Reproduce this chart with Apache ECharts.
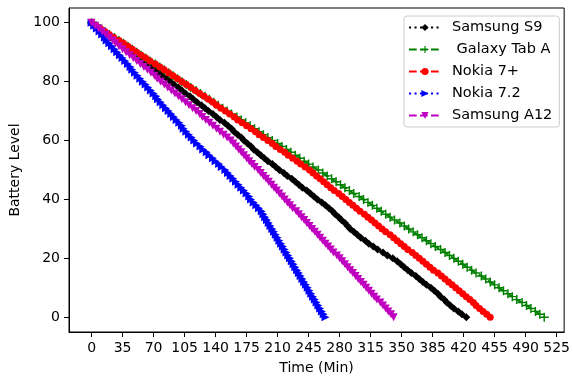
<!DOCTYPE html>
<html><head><meta charset="utf-8">
<script src="https://cdn.jsdelivr.net/npm/echarts@6/dist/echarts.min.js"></script>
<style>html,body{margin:0;padding:0;background:#fff}#c{width:573px;height:381px}</style>
</head><body><div id="c"></div>
<script>
// Battery levels (%) at which each time (minutes) was recorded
const levels = [100,99,98,97,96,95,94,93,92,91,90,89,88,87,86,85,84,83,82,81,80,79,78,77,76,75,74,73,72,71,70,69,68,67,66,65,64,63,62,61,60,59,58,57,56,55,54,53,52,51,50,49,48,47,46,45,44,43,42,41,40,39,38,37,36,35,34,33,32,31,30,29,28,27,26,25,24,23,22,21,20,19,18,17,16,15,14,13,12,11,10,9,8,7,6,5,4,3,2,1,0];

const samsungS9 = [0,4,9,13,18,22,27,31,36,40,45,49,54,58,63,67,72,76,80,85,89,93,98,102,106,111,115,119,124,128,132,137,141,145,150,154,158,161,165,169,172,176,180,183,187,191,195,199,204,208,212,217,221,226,230,234,238,243,247,251,255,260,264,268,272,275,279,282,286,289,292,296,300,304,309,313,318,323,329,334,340,345,349,353,357,361,366,370,374,378,383,387,391,394,398,401,405,409,414,418,423];

const galaxyTabA = [0,5,10,15,20,26,31,36,41,46,51,56,61,66,72,77,82,87,92,97,102,107,112,118,123,128,133,138,143,148,153,158,164,169,174,179,184,189,194,199,204,210,215,220,225,230,235,240,245,250,256,261,266,271,276,281,286,291,296,302,307,312,317,322,327,332,337,342,348,353,358,363,368,373,378,383,388,394,399,404,409,414,419,424,429,434,440,445,450,455,460,465,470,475,480,486,491,496,501,506,511];

const nokia7plus = [0,5,10,15,20,25,31,36,41,46,51,56,61,66,72,77,82,87,92,97,102,107,112,117,122,127,132,137,141,146,151,156,161,165,170,175,180,185,189,194,199,204,208,213,218,222,227,232,236,241,246,250,254,258,262,266,270,274,279,283,287,291,295,299,303,308,312,316,320,324,328,332,337,341,345,349,353,357,362,366,370,374,378,382,386,391,395,399,403,407,411,415,419,423,427,431,434,438,442,446,450];

const nokia72 = [0,3,6,9,12,15,17,20,23,26,29,32,35,38,41,44,46,49,52,55,58,61,64,67,70,73,75,78,81,84,87,90,93,96,99,102,104,107,110,113,116,119,123,126,130,133,137,140,144,147,151,154,157,160,163,166,169,172,175,178,180,183,186,189,192,194,196,198,200,202,204,206,208,210,212,214,216,218,220,222,224,226,228,230,232,234,236,238,240,242,244,246,248,250,252,254,256,258,260,262,264];

const samsungA12 = [0,4,8,12,16,20,24,27,31,35,39,43,47,51,55,59,63,67,71,74,78,82,86,90,94,98,102,106,110,114,118,122,125,129,133,137,141,145,149,153,157,160,163,166,169,172,175,178,181,184,188,191,194,197,200,203,206,209,212,215,218,221,224,227,231,234,237,240,243,246,249,252,255,258,261,264,267,270,273,277,280,283,286,289,292,295,298,301,304,307,310,313,316,319,322,326,329,332,335,338,341];

const xTicks = [0,35,70,105,140,175,210,245,280,315,350,385,420,455,490,525];
const yTicks = [0,20,40,60,80,100];

const seriesNames = ['Samsung S9', ' Galaxy Tab A', 'Nokia 7+', 'Nokia 7.2', 'Samsung A12'];

function pairs(times){ return times.map((t,i)=>[t, levels[i]]); }

const FONT = 'DejaVu Sans';
const plus = 'path://M4.2,0 L5.8,0 L5.8,4.2 L10,4.2 L10,5.8 L5.8,5.8 L5.8,10 L4.2,10 L4.2,5.8 L0,5.8 L0,4.2 L4.2,4.2 Z';

const styles = [
  {data: samsungS9, color:'#000000', symbol:'diamond', size:8, rot:0, dash:[2.1,3.4]},
  {data: galaxyTabA, color:'#008000', symbol:plus, size:9, rot:0, dash:[7.7,3.3]},
  {data: nokia7plus, color:'#ff0000', symbol:'circle', size:7, rot:0, dash:[7.7,3.3]},
  {data: nokia72, color:'#0000ff', symbol:'triangle', size:8, rot:-90, dash:[2.1,3.4]},
  {data: samsungA12, color:'#bf00bf', symbol:'triangle', size:8, rot:180, dash:[7.7,3.3]}
];

const chart = echarts.init(document.getElementById('c'), null, {renderer:'canvas'});
chart.setOption({
  animation:false,
  backgroundColor:'#ffffff',
  grid:{left:69, right:6, top:8, bottom:49, show:true, borderColor:'#000', borderWidth:1, backgroundColor:'transparent'},
  legend:{
    orient:'vertical', left:404, top:16,
    itemWidth:32, itemHeight:9, itemGap:7,
    padding:[4,7,4,4],
    borderColor:'#cccccc', borderWidth:1, borderRadius:3,
    backgroundColor:'rgba(255,255,255,0.8)',
    textStyle:{fontFamily:FONT, fontSize:14.5, color:'#000', padding:[0,0,0,6]},
    data: seriesNames
  },
  xAxis:{
    type:'value', min:-25.5, max:533.5,
    name:'Time (Min)', nameLocation:'middle', nameGap:29,
    nameTextStyle:{fontFamily:FONT, fontSize:14, color:'#000'},
    axisLine:{show:true, onZero:false, lineStyle:{color:'#000', width:1}},
    axisTick:{show:true, customValues:xTicks, length:5, lineStyle:{color:'#000', width:1}},
    axisLabel:{customValues:xTicks, margin:9, fontFamily:FONT, fontSize:14, color:'#000'},
    splitLine:{show:false}
  },
  yAxis:{
    type:'value', min:-5, max:105,
    name:'Battery Level', nameLocation:'middle', nameGap:43,
    nameTextStyle:{fontFamily:FONT, fontSize:14, color:'#000'},
    axisLine:{show:true, onZero:false, lineStyle:{color:'#000', width:1}},
    axisTick:{show:true, customValues:yTicks, length:5, lineStyle:{color:'#000', width:1}},
    axisLabel:{customValues:yTicks, margin:9, fontFamily:FONT, fontSize:14, color:'#000'},
    splitLine:{show:false}
  },
  series: styles.map((s,i)=>({
    name: seriesNames[i],
    type:'line',
    data: pairs(s.data),
    symbol: s.symbol, symbolSize: s.size, symbolRotate: s.rot,
    showSymbol:true, showAllSymbol:true,
    lineStyle:{color:s.color, width:2, type:s.dash},
    itemStyle:{color:s.color, borderWidth:0},
    emphasis:{disabled:true},
    z: 2+i
  }))
});
</script></body></html>
